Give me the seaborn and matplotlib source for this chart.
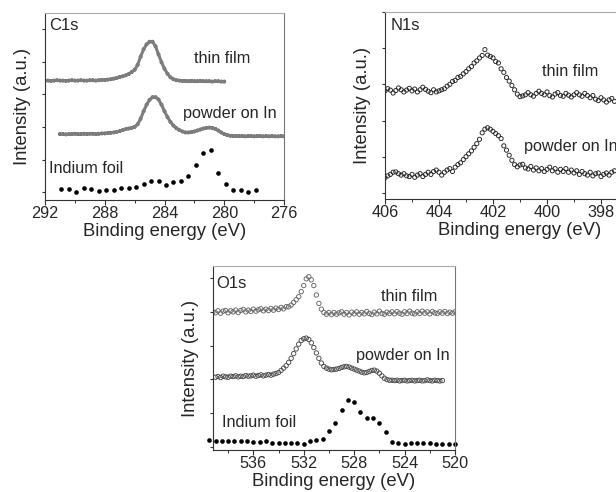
import numpy as np
import pandas as pd
import seaborn as sns
import matplotlib.pyplot as plt
from matplotlib.ticker import MultipleLocator

# ---- data (binding energy in eV, intensity in offset units) ----
# energy grids: start, stop, step of the recorded scans
c1s_film_grid = (292.0, 280.0, 0.2)
c1s_film = [3.42, 3.42, 3.41, 3.42, 3.43, 3.42, 3.42, 3.41, 3.42, 3.43,
            3.42, 3.42, 3.43, 3.42, 3.42, 3.43, 3.43, 3.42, 3.43, 3.44,
            3.44, 3.45, 3.46, 3.48, 3.50, 3.53, 3.55, 3.58, 3.62, 3.68,
            3.75, 3.90, 4.15, 4.38, 4.53, 4.61, 4.61, 4.47, 4.22, 3.98,
            3.78, 3.63, 3.52, 3.46, 3.43, 3.42, 3.41, 3.41, 3.40, 3.41,
            3.40, 3.40, 3.41, 3.40, 3.40, 3.40, 3.39, 3.40, 3.40, 3.39,
            3.39]

c1s_powder_grid = (291.0, 276.0, 0.2)
c1s_powder = [1.78, 1.78, 1.77, 1.78, 1.78, 1.79, 1.78, 1.78, 1.79, 1.78,
              1.79, 1.79, 1.78, 1.79, 1.80, 1.80, 1.81, 1.82, 1.83, 1.85,
              1.87, 1.90, 1.93, 1.95, 1.97, 2.00, 2.08, 2.25, 2.48, 2.68,
              2.83, 2.91, 2.91, 2.84, 2.68, 2.48, 2.30, 2.15, 2.04, 1.96,
              1.90, 1.86, 1.83, 1.83, 1.84, 1.86, 1.89, 1.92, 1.95, 1.97,
              1.98, 1.97, 1.94, 1.89, 1.83, 1.78, 1.75, 1.73, 1.72, 1.72,
              1.72, 1.72, 1.71, 1.72, 1.72, 1.71, 1.72, 1.72, 1.71, 1.72,
              1.71, 1.72, 1.71, 1.71, 1.72, 1.71]

c1s_foil_grid = (290.9, 277.9, 0.5)
c1s_foil = [0.10, 0.09, 0.01, 0.14, 0.09, 0.05, 0.06, 0.07, 0.12, 0.13,
            0.17, 0.24, 0.35, 0.33, 0.22, 0.32, 0.34, 0.50, 0.84, 1.20,
            1.28, 0.59, 0.24, 0.08, 0.08, 0.02, 0.07]

n1s_grid = (406.0, 397.5, 0.1)
n1s_film = [2.82, 2.88, 2.84, 2.76, 2.83, 2.90, 2.85, 2.79, 2.84, 2.89,
            2.82, 2.87, 2.79, 2.85, 2.92, 2.86, 2.81, 2.77, 2.85, 2.79,
            2.82, 2.85, 2.88, 2.95, 3.00, 3.08, 3.11, 3.19, 3.22, 3.29,
            3.35, 3.43, 3.49, 3.59, 3.65, 3.73, 3.80, 3.96, 3.81, 3.77,
            3.73, 3.63, 3.59, 3.43, 3.33, 3.19, 3.09, 2.97, 2.85, 2.73,
            2.66, 2.68, 2.71, 2.77, 2.71, 2.67, 2.75, 2.81, 2.75, 2.71,
            2.79, 2.69, 2.65, 2.73, 2.77, 2.69, 2.67, 2.75, 2.70, 2.65,
            2.71, 2.77, 2.71, 2.67, 2.75, 2.69, 2.63, 2.69, 2.59, 2.55,
            2.63, 2.57, 2.51, 2.57, 2.61, 2.53]
n1s_powder = [0.42, 0.47, 0.51, 0.57, 0.58, 0.53, 0.49, 0.53, 0.47, 0.45,
              0.51, 0.43, 0.49, 0.53, 0.45, 0.51, 0.57, 0.51, 0.59, 0.63,
              0.57, 0.49, 0.57, 0.63, 0.67, 0.59, 0.71, 0.78, 0.83, 0.92,
              1.00, 1.08, 1.16, 1.26, 1.36, 1.48, 1.66, 1.76, 1.80, 1.76,
              1.70, 1.64, 1.58, 1.50, 1.30, 1.18, 1.04, 0.90, 0.78, 0.72,
              0.77, 0.79, 0.69, 0.66, 0.73, 0.63, 0.69, 0.61, 0.67, 0.59,
              0.65, 0.71, 0.61, 0.67, 0.57, 0.65, 0.59, 0.67, 0.57, 0.63,
              0.55, 0.61, 0.51, 0.59, 0.53, 0.49, 0.57, 0.47, 0.53, 0.55,
              0.45, 0.51, 0.55, 0.49, 0.57, 0.61]

o1s_film_grid = (539.2, 520.0, 0.2)
o1s_film = [4.00, 3.97, 4.03, 3.96, 4.02, 4.04, 3.97, 4.03, 4.00, 4.05,
            3.98, 4.04, 4.07, 4.00, 4.05, 4.01, 4.08, 4.02, 4.06, 4.09,
            4.03, 4.08, 4.04, 4.10, 4.05, 4.11, 4.07, 4.13, 4.09, 4.15,
            4.15, 4.20, 4.28, 4.36, 4.45, 4.60, 4.78, 4.98, 5.04, 4.95,
            4.78, 4.50, 4.25, 4.08, 3.98, 3.93, 3.98, 3.92, 3.98, 3.93,
            3.97, 4.00, 3.93, 3.98, 3.91, 3.99, 3.94, 4.00, 3.93, 3.98,
            3.94, 4.01, 3.95, 3.92, 3.99, 3.94, 4.02, 3.95, 3.93, 3.99,
            3.95, 4.00, 3.94, 4.01, 3.96, 3.93, 4.00, 3.95, 4.02, 3.96,
            3.94, 4.00, 3.95, 4.02, 3.96, 4.00, 3.94, 4.01, 3.97, 3.95,
            4.00, 3.96, 4.01, 3.95, 3.99, 3.96, 4.00]

o1s_powder_grid = (539.0, 521.0, 0.2)
o1s_powder = [2.06, 2.08, 2.05, 2.09, 2.07, 2.06, 2.09, 2.08, 2.10, 2.07,
              2.09, 2.08, 2.11, 2.09, 2.10, 2.12, 2.09, 2.11, 2.13, 2.10,
              2.12, 2.14, 2.12, 2.15, 2.17, 2.20, 2.26, 2.33, 2.40, 2.50,
              2.62, 2.76, 2.90, 3.04, 3.15, 3.20, 3.22, 3.18, 3.08, 2.94,
              2.78, 2.62, 2.48, 2.38, 2.33, 2.30, 2.28, 2.29, 2.30, 2.32,
              2.35, 2.37, 2.38, 2.36, 2.33, 2.30, 2.27, 2.24, 2.21, 2.19,
              2.20, 2.23, 2.26, 2.27, 2.24, 2.18, 2.10, 2.03, 1.99, 1.97,
              1.97, 1.96, 1.97, 1.95, 1.96, 1.97, 1.95, 1.96, 1.97, 1.95,
              1.96, 1.97, 1.95, 1.96, 1.98, 1.96, 1.95, 1.97, 1.96, 1.95,
              1.96]

o1s_foil_grid = (539.5, 520.0, 0.5)
o1s_foil = [0.20, 0.18, 0.17, 0.17, 0.17, 0.17, 0.16, 0.13, 0.13, 0.16,
            0.10, 0.10, 0.10, 0.10, 0.10, 0.08, 0.17, 0.20, 0.24, 0.45,
            0.71, 1.09, 1.37, 1.31, 1.04, 0.86, 0.84, 0.71, 0.42, 0.15,
            0.12, 0.08, 0.10, 0.10, 0.10, 0.10, 0.08, 0.08, 0.08, 0.08]


def frame(grid, values):
    start, stop, step = grid
    n = len(values)
    energy = start - step * np.arange(n)
    return pd.DataFrame({'energy': energy, 'intensity': values})


sns.set_style("ticks")
plt.rcParams['font.family'] = ['Liberation Sans', 'DejaVu Sans']
plt.rcParams['font.size'] = 11.7

fig = plt.figure(figsize=(6.16, 4.92), dpi=100)
W, H = 616, 492


def make_axes(left, top, right, bottom):
    return fig.add_axes([left / W, 1 - bottom / H, (right - left) / W, (bottom - top) / H])


def style(ax, xlim, ylim, major, label_pad=1):
    ax.set_xlim(*xlim)
    ax.set_ylim(*ylim)
    ax.xaxis.set_major_locator(MultipleLocator(major))
    ax.xaxis.set_minor_locator(MultipleLocator(major / 2))
    ax.set_yticks(range(0, int(ylim[1]) + 1))
    ax.set_yticklabels([])
    ax.tick_params(axis='x', which='major', length=3.5, width=0.8, pad=1,
                   labelsize=11.7, color='#333333')
    ax.tick_params(axis='x', which='minor', length=2, width=0.7, color='#333333')
    ax.tick_params(axis='y', length=2.5, width=0.8, color='#333333')
    ax.spines['left'].set_color('#333333')
    ax.spines['bottom'].set_color('#333333')
    ax.spines['top'].set_color('#aaaaaa')
    ax.spines['right'].set_color('#777777')
    for s in ax.spines.values():
        s.set_linewidth(0.8)
        s.set_visible(True)
    ax.set_xlabel('Binding energy (eV)', fontsize=13.3, labelpad=label_pad)
    ax.set_ylabel('Intensity (a.u.)', fontsize=13.3, labelpad=4)


def smooth_curve(ax, df):
    sns.lineplot(data=df, x='energy', y='intensity', ax=ax, color='#7d7d7d',
                 lw=2.2, sort=False)
    sns.scatterplot(data=df, x='energy', y='intensity', ax=ax, s=5,
                    facecolor='none', edgecolor='#3a3a3a', linewidth=0.5)


def noisy_curve(ax, df, edge, size=9):
    sns.scatterplot(data=df, x='energy', y='intensity', ax=ax, s=size,
                    facecolor='none', edgecolor=edge, linewidth=0.65)


def dots(ax, df):
    sns.scatterplot(data=df, x='energy', y='intensity', ax=ax, s=11,
                    color='black', linewidth=0, clip_on=False)


# ---- C1s ----
ax1 = make_axes(45, 12.7, 284, 200)
smooth_curve(ax1, frame(c1s_film_grid, c1s_film))
smooth_curve(ax1, frame(c1s_powder_grid, c1s_powder))
dots(ax1, frame(c1s_foil_grid, c1s_foil))
style(ax1, (292, 276), (-0.24, 5.5), 4)
ax1.text(291.7, 5.1, 'C1s', va='center', fontsize=12)
ax1.text(282.0, 4.11, 'thin film', va='center')
ax1.text(282.76, 2.42, 'powder on In', va='center')
ax1.text(291.7, 0.74, 'Indium foil', va='center')

# ---- N1s (right part falls outside the figure, as in the source) ----
ax2 = make_axes(385, 12, 655, 199)
noisy_curve(ax2, frame(n1s_grid, n1s_film), '#222222')
noisy_curve(ax2, frame(n1s_grid, n1s_powder), '#222222')
style(ax2, (406, 396), (-0.17, 5.0), 2)
ax2.text(405.8, 4.62, 'N1s', va='center', fontsize=12)
ax2.text(400.2, 3.35, 'thin film', va='center')
ax2.text(400.84, 1.27, 'powder on In', va='center')

# ---- O1s ----
ax3 = make_axes(213, 266, 455, 450)
noisy_curve(ax3, frame(o1s_film_grid, o1s_film), '#666666', size=10)
noisy_curve(ax3, frame(o1s_powder_grid, o1s_powder), '#4a4a4a', size=10)
dots(ax3, frame(o1s_foil_grid, o1s_foil))
style(ax3, (539.2, 520), (-0.1, 5.36), 4)
ax3.text(538.96, 4.85, 'O1s', va='center', fontsize=12)
ax3.text(525.87, 4.45, 'thin film', va='center')
ax3.text(527.86, 2.69, 'powder on In', va='center')
ax3.text(538.5, 0.71, 'Indium foil', va='center')

fig.savefig('out.png', dpi=100, facecolor='white')
plt.close(fig)
